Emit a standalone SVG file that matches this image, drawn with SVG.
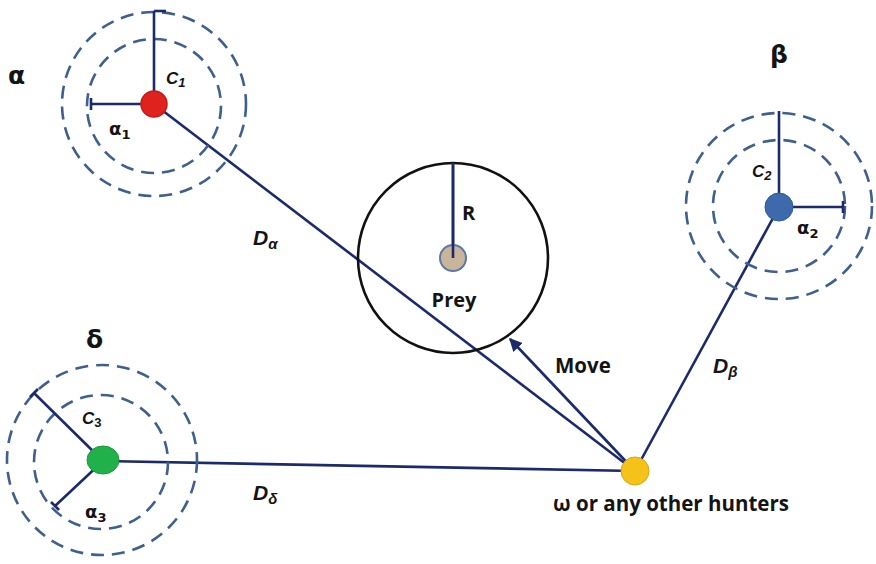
<svg xmlns="http://www.w3.org/2000/svg" width="876" height="564" viewBox="0 0 876 564">
<style>
.ring{fill:none;stroke:#3f5f8c;stroke-width:2.6;stroke-dasharray:13 8}
.ln{stroke:#1c2a6b;stroke-width:2.6;fill:none}
.t{font-family:"Open Sans","Liberation Sans",sans-serif;font-weight:bold;fill:#141414}
.it{font-family:"Liberation Sans",sans-serif;font-weight:bold;font-style:italic;fill:#141414}
.g{font-family:"DejaVu Sans","Liberation Sans",sans-serif;font-weight:bold;fill:#141414}
</style>
<defs>
<marker id="ah" viewBox="0 0 10 10" refX="9" refY="5" markerWidth="5" markerHeight="5" orient="auto">
<path d="M0,0 L10,5 L0,10 z" fill="#1c2a6b"/>
</marker>
</defs>
<rect width="876" height="564" fill="#fff"/>
<g id="connectors">
<line class="ln" x1="154" y1="104" x2="635" y2="471"/>
<line class="ln" x1="779" y1="207" x2="635" y2="471"/>
<line class="ln" x1="103" y1="461" x2="635" y2="471"/>
<line class="ln" x1="635" y1="471" x2="510" y2="339" marker-end="url(#ah)"/>
</g>
<g id="alpha">
<circle class="ring" cx="154" cy="104" r="92"/>
<circle class="ring" cx="154" cy="106" r="67"/>
<line class="ln" x1="154" y1="104" x2="154" y2="11"/>
<line class="ln" x1="154" y1="11" x2="166" y2="11"/>
<line class="ln" x1="154" y1="104" x2="91" y2="104"/>
<line class="ln" x1="91" y1="98" x2="91" y2="110"/>
<circle cx="154" cy="104" r="13" fill="#e0221f" stroke="#c41a18" stroke-width="1.5"/>
<text class="g" x="8" y="84" font-size="25">α</text>
<text class="it" x="166" y="84" font-size="17">C<tspan font-size="13" dy="3">1</tspan></text>
<text class="g" x="109" y="135" font-size="18">α<tspan font-size="13" dy="4">1</tspan></text>
</g>
<g id="beta">
<circle class="ring" cx="779" cy="206" r="93"/>
<circle class="ring" cx="779" cy="206" r="66"/>
<line class="ln" x1="779" y1="207" x2="779" y2="111"/>
<line class="ln" x1="779" y1="207" x2="843" y2="207"/>
<line class="ln" x1="843" y1="201" x2="843" y2="213"/>
<circle cx="779" cy="207" r="14" fill="#3c6aaa" stroke="#2f5a98" stroke-width="1"/>
<text class="g" x="770" y="63" font-size="25">β</text>
<text class="it" x="752" y="177" font-size="17">C<tspan font-size="13" dy="3">2</tspan></text>
<text class="g" x="797" y="234" font-size="18">α<tspan font-size="13" dy="4">2</tspan></text>
</g>
<g id="delta">
<circle class="ring" cx="102" cy="460" r="95"/>
<circle class="ring" cx="101" cy="462" r="67"/>
<line class="ln" x1="103" y1="461" x2="34" y2="393"/>
<line class="ln" x1="30" y1="397" x2="38" y2="389"/>
<line class="ln" x1="103" y1="461" x2="55" y2="506"/>
<line class="ln" x1="51" y1="502" x2="59" y2="510"/>
<ellipse cx="103" cy="460" rx="16" ry="14" fill="#22b04b" stroke="#1a9a3e" stroke-width="1"/>
<text class="g" x="86" y="348" font-size="25">δ</text>
<text class="it" x="82" y="424" font-size="17">C<tspan font-size="13" font-style="normal" dy="3">3</tspan></text>
<text class="g" x="85" y="518" font-size="18">α<tspan font-size="13" dy="4">3</tspan></text>
</g>
<g id="prey">
<circle cx="453" cy="258" r="95" fill="none" stroke="#111" stroke-width="2.6"/>
<line class="ln" x1="453" y1="258" x2="453" y2="163"/>
<circle cx="453" cy="258" r="13" fill="#c9b49c" stroke="#5b7aa2" stroke-width="2"/>
<line class="ln" x1="453" y1="258" x2="453" y2="163"/>
<text class="t" x="462" y="220" font-size="20">R</text>
<text class="t" x="454" y="307" font-size="20" text-anchor="middle">Prey</text>
</g>
<g id="omega">
<circle cx="635" cy="471" r="14" fill="#f5c219" stroke="#d9a514" stroke-width="1"/>
<text class="t" x="553" y="511" font-size="20.5">ω or any other hunters</text>
</g>
<g id="labels">
<text class="t" x="555" y="373" font-size="20.5">Move</text>
<text class="it" x="253" y="245" font-size="21">D<tspan font-size="15" dy="4">α</tspan></text>
<text class="it" x="713" y="373" font-size="21">D<tspan font-size="15" dy="4">β</tspan></text>
<text class="it" x="253" y="500" font-size="21">D<tspan font-size="15" dy="4">δ</tspan></text>
</g>
</svg>
